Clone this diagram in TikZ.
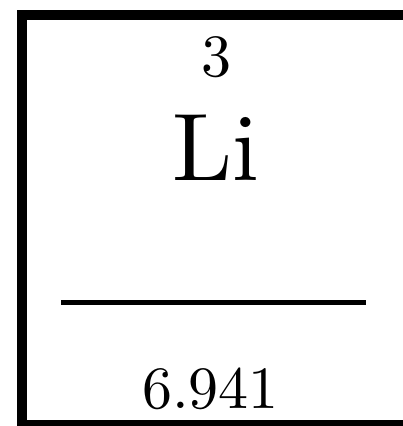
\documentclass[tikz,border=0pt]{standalone}
\usepackage{tikz}
\usetikzlibrary{positioning}

\tikzset{
  numtext/.style={anchor=base, inner sep=0pt, font=\normalsize, scale=6},
  symtext/.style={anchor=base, inner sep=0pt, font=\normalsize, scale=9.6}
}

\begin{document}
\begin{tikzpicture}[x=1pt, y=-1pt]
    % Frame of the picture
    \useasboundingbox (0,0) rectangle (403,426);
    % Element box
    \draw[line width=10pt] (22,15) rectangle (412,425);
    % Atomic number and symbol
    \node[numtext] (number) at (216,76.5) {3};
    \node[symtext] (symbol) at (216,180.5) {Li};
    % Bar
    \draw[line width=5pt] (61,302) -- (366,302);
    % Atomic mass
    \node[numtext] (mass) at (210.5,408) {6.941};
  \end{tikzpicture}
\end{document}
